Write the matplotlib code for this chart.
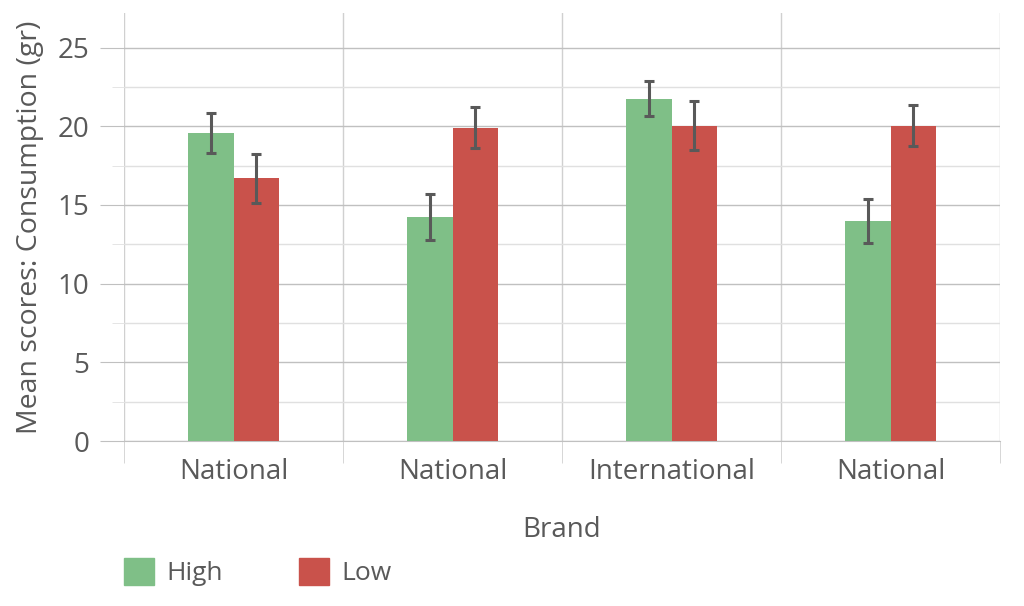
import matplotlib.pyplot as plt
from matplotlib.patches import Patch
from matplotlib.ticker import MultipleLocator

# chart values
brands = ['National', 'National', 'International', 'National']
high_mean = [19.6, 14.25, 21.75, 14.0]
high_err = [1.27, 1.47, 1.1, 1.4]
low_mean = [16.7, 19.9, 20.05, 20.05]
low_err = [1.56, 1.3, 1.53, 1.3]

green = '#7fbf87'
red = '#c9524b'
text_col = '#595959'

plt.rcParams['font.family'] = ['Open Sans', 'DejaVu Sans']

fig = plt.figure(figsize=(10.24, 6.06), dpi=100)
ax = fig.add_axes([124 / 1024, 1 - 441 / 606, 876 / 1024, 428 / 606])

x = list(range(len(brands)))
w = 0.21
err_kw = dict(ecolor=text_col, elinewidth=2.2, capsize=3.8, capthick=2.2)
ax.bar([i - w / 2 for i in x], high_mean, w, yerr=high_err, color=green,
       error_kw=err_kw, zorder=3, label='High')
ax.bar([i + w / 2 for i in x], low_mean, w, yerr=low_err, color=red,
       error_kw=err_kw, zorder=3, label='Low')

ax.set_xlim(-0.5, len(brands) - 0.5)
ax.set_ylim(0, 27.2)

# y gridlines: major every 5 (labelled), minor every 2.5
ax.yaxis.set_major_locator(MultipleLocator(5))
ax.yaxis.set_minor_locator(MultipleLocator(2.5))
ax.grid(axis='y', which='major', color='#c0c0c0', lw=1.0, zorder=0)
ax.grid(axis='y', which='minor', color='#e0e0e0', lw=1.0, zorder=0)
ax.tick_params(axis='y', which='major', length=17, color='#c0c0c0',
               labelsize=20, labelcolor=text_col, pad=8)
ax.tick_params(axis='y', which='minor', length=8.5, color='#e0e0e0')

# category separators extending below the axis
ax.set_xticks(x)
ax.set_xticklabels(brands)
ax.set_xticks([i - 0.5 for i in range(len(brands) + 1)], minor=True)
ax.grid(axis='x', which='minor', color='#d0d0d0', lw=1.0, zorder=0)
ax.tick_params(axis='x', which='major', length=0, labelsize=20,
               labelcolor=text_col, pad=12)
ax.tick_params(axis='x', which='minor', length=16, color='#d0d0d0')

for s in ['top', 'left', 'right']:
    ax.spines[s].set_visible(False)
ax.spines['bottom'].set_color('#c0c0c0')

ax.set_ylabel('Mean scores: Consumption (gr)', fontsize=20.5, color=text_col, labelpad=10)
ax.set_xlabel('Brand', fontsize=20, color=text_col, labelpad=22)

handles = [Patch(color=green), Patch(color=red)]
fig.legend(handles, ['High', 'Low'], loc='lower left', ncol=2,
           bbox_to_anchor=(100 / 1024, -0.007), frameon=False, fontsize=19,
           labelcolor=text_col, handlelength=1.15, handleheight=1.15,
           handletextpad=0.45, columnspacing=2.9)

fig.savefig('out.png', dpi=100)
